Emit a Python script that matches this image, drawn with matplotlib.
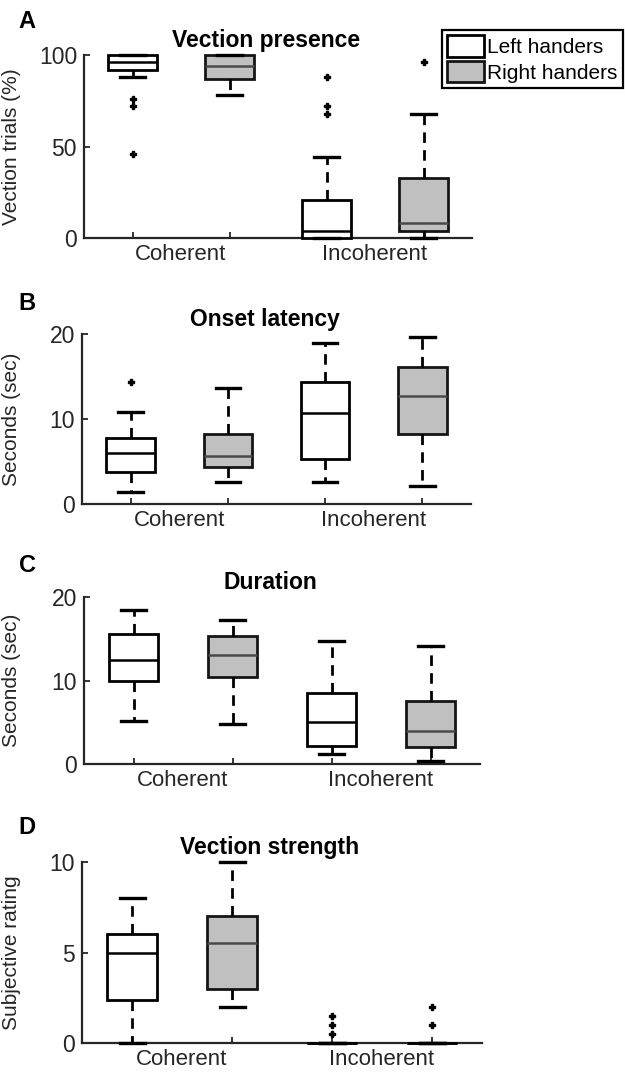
import numpy as np
import matplotlib.pyplot as plt
from matplotlib.patches import Patch

plt.rcParams['font.family'] = ['Liberation Sans', 'DejaVu Sans']

# box order: left coherent, right coherent, left incoherent, right incoherent
groups = ["Left handers", "Right handers"]
conditions = ["Coherent", "Incoherent"]

# Vection presence (%)
pres_q1 = [92, 87, 0, 4]
pres_med = [96, 94, 4, 8]
pres_q3 = [100, 100, 21, 33]
pres_lo = [88, 78, 0, 0]
pres_hi = [100, 100, 44, 68]
pres_fliers = [[76, 72, 46], [], [88, 72, 68], [96]]

# Onset latency (sec)
onset_q1 = [3.8, 4.3, 5.3, 8.2]
onset_med = [6.0, 5.6, 10.7, 12.7]
onset_q3 = [7.8, 8.2, 14.3, 16.1]
onset_lo = [1.45, 2.6, 2.6, 2.1]
onset_hi = [10.8, 13.7, 18.9, 19.7]
onset_fliers = [[14.3], [], [], []]

# Duration (sec)
dur_q1 = [9.9, 10.4, 2.2, 2.0]
dur_med = [12.4, 13.1, 5.0, 3.9]
dur_q3 = [15.6, 15.3, 8.5, 7.6]
dur_lo = [5.2, 4.8, 1.2, 0.3]
dur_hi = [18.5, 17.3, 14.7, 14.1]
dur_fliers = [[], [], [], []]

# Vection strength (rating)
str_q1 = [2.4, 3.0, 0, 0]
str_med = [5.0, 5.5, 0, 0]
str_q3 = [6.0, 7.0, 0, 0]
str_lo = [0, 2.0, 0, 0]
str_hi = [8.0, 10.0, 0, 0]
str_fliers = [[], [], [1.5, 1.0, 0.5], [2.0, 1.0]]

W, H = 625, 1073
fig = plt.figure(figsize=(W / 100, H / 100), dpi=100)

GRAY = '#c0c0c0'
DARK = '#262626'


def add_ax(l, r, t, b):
    return fig.add_axes([l / W, 1 - b / H, (r - l) / W, (b - t) / H])


def panel(ax, q1, med, q3, lo, hi, fl, ylim, yticks, title, ylabel, letter, idx):
    stats = []
    for i in range(4):
        stats.append(dict(q1=q1[i], med=med[i], q3=q3[i], whislo=lo[i],
                          whishi=hi[i], fliers=fl[i]))
    bp = ax.bxp(stats, positions=[1, 2, 3, 4], widths=0.5, capwidths=0.25,
                patch_artist=True,
                boxprops=dict(facecolor='white', edgecolor='black', linewidth=2),
                medianprops=dict(color='black', linewidth=1.8),
                whiskerprops=dict(color='black', linewidth=2,
                                  linestyle=(0, (3.8, 2.6))),
                capprops=dict(color='black', linewidth=2.4),
                flierprops=dict(marker='P', markerfacecolor='black',
                                markeredgecolor='black', markersize=5))
    for i in (1, 3):
        bp['boxes'][i].set_facecolor(GRAY)
        bp['boxes'][i].set_edgecolor('#151515')
        if q3[i] > q1[i]:
            bp['medians'][i].set_color('#4a4a4a')
    # let marks sitting on zero draw over the axis line
    for key in ('boxes', 'medians', 'whiskers', 'caps', 'fliers'):
        for art in bp[key]:
            art.set_clip_on(False)
            art.set_zorder(3)
    ax.set_xlim(0.5, 4.5)
    ax.set_ylim(*ylim)
    ax.set_yticks(yticks)
    ax.set_xticks([1.5, 3.5])
    ax.set_xticklabels(conditions)
    ax.set_xticks([1, 2, 3, 4], minor=True)
    ax.tick_params(axis='x', which='major', length=0, pad=4, labelsize=16,
                   labelcolor=DARK)
    ax.tick_params(axis='x', which='minor', direction='in', length=4,
                   width=1.3, color=DARK)
    ax.tick_params(axis='y', direction='in', length=4, width=1.3, color=DARK,
                   pad=5, labelsize=16.5, labelcolor=DARK)
    for s in ('top', 'right'):
        ax.spines[s].set_visible(False)
    for s in ('left', 'bottom'):
        ax.spines[s].set_color(DARK)
        ax.spines[s].set_linewidth(1.6)
        ax.spines[s].set_zorder(2)
    ax.set_title(title, fontsize=16.5, fontweight='bold', pad=6, x=0.47)
    ax.set_ylabel(ylabel, fontsize=15, color=DARK)
    pos = ax.get_position()
    ax.yaxis.set_label_coords(-(pos.x0 * W - 21) / (pos.width * W), 0.5)
    fig.text(27 / W, 1 - letter / H, 'ABCD'[idx], fontsize=17,
             fontweight='bold', ha='center', va='center')


axA = add_ax(84, 472, 55, 238)
panel(axA, pres_q1, pres_med, pres_q3, pres_lo, pres_hi, pres_fliers,
      (0, 100), [0, 50, 100], "Vection presence", "Vection trials (%)", 21, 0)

axB = add_ax(82, 471, 334, 504)
panel(axB, onset_q1, onset_med, onset_q3, onset_lo, onset_hi, onset_fliers,
      (0, 20), [0, 10, 20], "Onset latency", "Seconds (sec)", 303, 1)

axC = add_ax(84, 480, 597, 764)
panel(axC, dur_q1, dur_med, dur_q3, dur_lo, dur_hi, dur_fliers,
      (0, 20), [0, 10, 20], "Duration", "Seconds (sec)", 565, 2)

axD = add_ax(82, 482, 862, 1043)
panel(axD, str_q1, str_med, str_q3, str_lo, str_hi, str_fliers,
      (0, 10), [0, 5, 10], "Vection strength", "Subjective rating", 828, 3)

handles = [Patch(facecolor='white', edgecolor='black', linewidth=2, label=groups[0]),
           Patch(facecolor=GRAY, edgecolor='#151515', linewidth=2, label=groups[1])]
leg = fig.legend(handles=handles, loc='upper right',
                 bbox_to_anchor=(623 / W, 1 - 30 / H), fontsize=15,
                 fancybox=False, framealpha=1, edgecolor='black',
                 handlelength=1.8, handleheight=1.2, handletextpad=0.15,
                 borderpad=0.25, labelspacing=0.2, borderaxespad=0)
leg.get_frame().set_linewidth(1.6)

fig.savefig('out.png', dpi=100)
